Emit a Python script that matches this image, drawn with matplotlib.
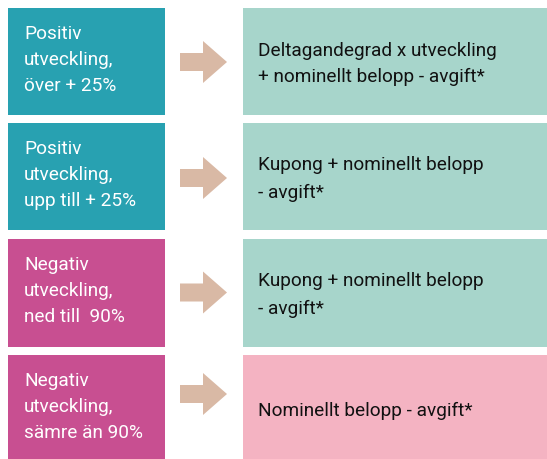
import matplotlib
matplotlib.use("Agg")
import matplotlib.pyplot as plt
from matplotlib.patches import Rectangle, FancyArrow

# left column: scenario text, right column: outcome text
scenarios = [
    ["Positiv", "utveckling,", "över + 25%"],
    ["Positiv", "utveckling,", "upp till + 25%"],
    ["Negativ", "utveckling,", "ned till  90%"],
    ["Negativ", "utveckling,", "sämre än 90%"],
]
outcomes = [
    ["Deltagandegrad x utveckling", "+ nominellt belopp - avgift*"],
    ["Kupong + nominellt belopp", "- avgift*"],
    ["Kupong + nominellt belopp", "- avgift*"],
    ["Nominellt belopp - avgift*"],
]
left_colors = ["#28a1b1", "#28a1b1", "#c84f91", "#c84f91"]
right_colors = ["#a7d5cb", "#a7d5cb", "#a7d5cb", "#f4b3c2"]

# layout in pixels
W, H = 547, 459
row_top = [8, 123, 239, 355]
row_bot = [115, 230, 347, 460]
arrow_y = [62, 178, 292.5, 394]

fig = plt.figure(figsize=(W / 100, H / 100), dpi=100)
ax = fig.add_axes([0, 0, 1, 1])
ax.set_xlim(0, W)
ax.set_ylim(H, 0)
ax.axis("off")

fs = 13.7
for i in range(len(scenarios)):
    top, bot = row_top[i], row_bot[i]
    ax.add_patch(Rectangle((8, top), 157, bot - top, facecolor=left_colors[i], edgecolor="none"))
    ax.add_patch(Rectangle((243, top), W - 243 + 2, bot - top, facecolor=right_colors[i], edgecolor="none"))
    ax.add_patch(FancyArrow(180, arrow_y[i], 23, 0, width=18, head_width=42, head_length=24,
                            length_includes_head=False, color="#d9b9a5", linewidth=0))
    for j, line in enumerate(scenarios[i]):
        ax.text(24, top + 31 + 26 * j, line, color="white", fontsize=fs,
                family="Roboto", va="baseline", ha="left")
    n = len(outcomes[i])
    for j, line in enumerate(outcomes[i]):
        ax.text(258, top + 61 - (n - 1) * 13.5 + 27 * j, line, color="#111111", fontsize=fs,
                family="Roboto", va="baseline", ha="left")

fig.savefig("out.png", dpi=100)
